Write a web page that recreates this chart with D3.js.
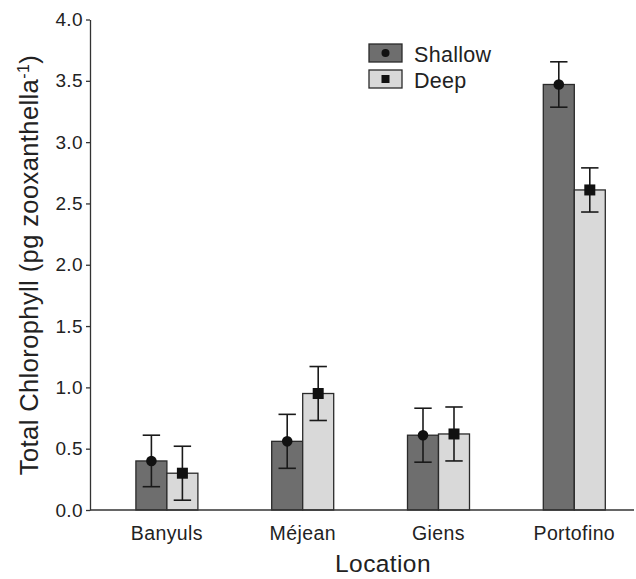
<!DOCTYPE html>
<html><head><meta charset="utf-8">
<script src="https://cdn.jsdelivr.net/npm/d3@7"></script>
<style>body{margin:0;background:#fff;} svg{display:block;font-family:"Liberation Sans",Arial,sans-serif;}</style>
</head><body>
<svg id="c" width="636" height="579"></svg>
<script>
const locations = ["Banyuls", "Méjean", "Giens", "Portofino"];
const seriesNames = ["Shallow", "Deep"];
const shallowMean = [0.40, 0.56, 0.61, 3.47];
const shallowErr  = [0.21, 0.22, 0.22, 0.185];
const deepMean    = [0.30, 0.95, 0.62, 2.61];
const deepErr     = [0.22, 0.22, 0.22, 0.18];
const yTicks = [0, 0.5, 1.0, 1.5, 2.0, 2.5, 3.0, 3.5, 4.0];

const colors = {Shallow: "#6e6e6e", Deep: "#d9d9d9"};
const svg = d3.select("#c");
const x0 = 90, y0 = 510;
const y = d3.scaleLinear().domain([0, 4]).range([y0, 19.5]);
const x = d3.scaleBand().domain(locations).range([99, 642.2]).paddingInner(0).paddingOuter(0);
const xi = d3.scaleBand().domain(seriesNames).range([-31, 31]);

const data = [];
locations.forEach((loc, i) => {
  data.push({loc, s: "Shallow", v: shallowMean[i], e: shallowErr[i]});
  data.push({loc, s: "Deep", v: deepMean[i], e: deepErr[i]});
});
const cx = d => x(d.loc) + x.bandwidth() / 2 + xi(d.s) + xi.bandwidth() / 2;

// bars
svg.append("g").selectAll("rect").data(data).join("rect")
  .attr("x", d => x(d.loc) + x.bandwidth() / 2 + xi(d.s))
  .attr("y", d => y(d.v))
  .attr("width", xi.bandwidth())
  .attr("height", d => y(0) - y(d.v))
  .attr("fill", d => colors[d.s])
  .attr("stroke", "#2a2a2a").attr("stroke-width", 1.3);

// error bars
const eg = svg.append("g").attr("stroke", "#1a1a1a").attr("stroke-width", 1.6);
data.forEach(d => {
  const c = cx(d);
  eg.append("line").attr("x1", c).attr("x2", c).attr("y1", y(d.v + d.e)).attr("y2", y(d.v - d.e));
  eg.append("line").attr("x1", c - 8.7).attr("x2", c + 8.7).attr("y1", y(d.v + d.e)).attr("y2", y(d.v + d.e));
  eg.append("line").attr("x1", c - 8.7).attr("x2", c + 8.7).attr("y1", y(d.v - d.e)).attr("y2", y(d.v - d.e));
});

// markers
data.forEach(d => {
  const c = cx(d);
  if (d.s === "Shallow") svg.append("circle").attr("cx", c).attr("cy", y(d.v)).attr("r", 5.3).attr("fill", "#111");
  else svg.append("rect").attr("x", c - 5.5).attr("y", y(d.v) - 5.5).attr("width", 11).attr("height", 11).attr("fill", "#111");
});

// axes
const yAxis = svg.append("g").attr("transform", `translate(${x0},0)`)
  .call(d3.axisLeft(y).tickValues(yTicks).tickFormat(d3.format(".1f")).tickSize(4).tickSizeOuter(0));
yAxis.select(".domain").attr("stroke", "#333").attr("stroke-width", 1.3);
yAxis.selectAll(".tick line").attr("stroke", "#333").attr("stroke-width", 1.3);
yAxis.selectAll("text").attr("font-size", 19).attr("fill", "#222").attr("x", -7)
  .attr("font-family", "Liberation Sans, Arial, sans-serif").style("letter-spacing", "0.4px");

svg.append("line").attr("x1", x0).attr("x2", 634).attr("y1", y0).attr("y2", y0)
  .attr("stroke", "#333").attr("stroke-width", 1.3);

const xAxis = svg.append("g").attr("transform", `translate(0,${y0})`)
  .call(d3.axisBottom(x).tickSize(0));
xAxis.select(".domain").remove();
xAxis.selectAll("text").attr("font-size", 19.5).attr("fill", "#222").attr("dy", 0).attr("y", 30)
  .attr("font-family", "Liberation Sans, Arial, sans-serif").style("letter-spacing", "0.4px");

// axis titles
svg.append("text").attr("x", 383).attr("y", 572).attr("text-anchor", "middle")
  .attr("font-size", 24.5).attr("fill", "#222").style("letter-spacing", "0.4px").text("Location");
const yt = svg.append("text").attr("transform", "translate(38,265) rotate(-90)").attr("text-anchor", "middle")
  .attr("font-size", 25.5).attr("fill", "#222").style("letter-spacing", "0.4px");
yt.append("tspan").text("Total Chlorophyll (pg zooxanthella");
yt.append("tspan").attr("dy", -9).attr("font-size", 16).text("-1");
yt.append("tspan").attr("dy", 9).text(")");

// legend
const lg = svg.append("g");
seriesNames.forEach((s, i) => {
  const top = 44 + i * 26;
  lg.append("rect").attr("x", 369).attr("y", top).attr("width", 33).attr("height", 18)
    .attr("fill", colors[s]).attr("stroke", "#2a2a2a").attr("stroke-width", 1.3);
  if (s === "Shallow") lg.append("circle").attr("cx", 385.5).attr("cy", top + 9).attr("r", 4).attr("fill", "#111");
  else lg.append("rect").attr("x", 381.5).attr("y", top + 5).attr("width", 8).attr("height", 8).attr("fill", "#111");
  lg.append("text").attr("x", 414).attr("y", top + 17.5).attr("font-size", 21.5).attr("fill", "#222")
    .style("letter-spacing", "0.3px").text(s);
});
</script>
</body></html>
